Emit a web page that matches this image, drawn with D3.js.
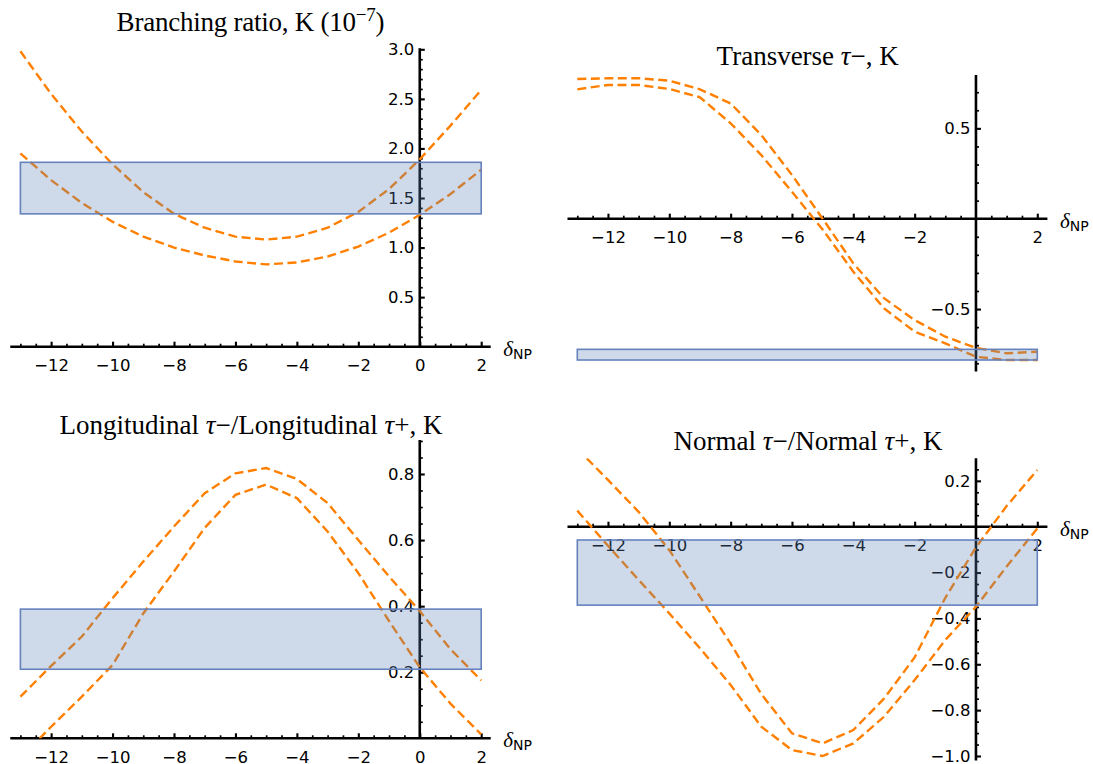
<!DOCTYPE html>
<html>
<head>
<meta charset="utf-8">
<script src="https://cdn.jsdelivr.net/npm/d3@7"></script>
<style>
  body { margin: 0; background: #fff; }
  svg { display: block; }
</style>
</head>
<body>
<svg id="chart" width="1093" height="764"></svg>
<script>
// New-physics parameter grid
const deltaNP = [-13, -12, -11, -10, -9, -8, -7, -6, -5, -4, -3, -2, -1, 0, 1, 2];

// Branching ratio (units of 1e-7): upper / lower bounds and measured band
const branchingUpper = [2.98, 2.55, 2.17, 1.84, 1.56, 1.34, 1.20, 1.11, 1.08, 1.11, 1.20, 1.36, 1.59, 1.89, 2.23, 2.59];
const branchingLower = [1.95, 1.68, 1.45, 1.26, 1.11, 1.00, 0.92, 0.86, 0.83, 0.85, 0.91, 1.01, 1.15, 1.33, 1.54, 1.785];
const branchingBand = [1.34, 1.86];

// Transverse tau- polarisation
const transverseUpper = [0.773, 0.777, 0.777, 0.764, 0.716, 0.638, 0.463, 0.242, 0.0, -0.247, -0.44, -0.561, -0.653, -0.715, -0.745, -0.736];
const transverseLower = [0.716, 0.740, 0.740, 0.718, 0.672, 0.528, 0.352, 0.149, -0.06, -0.293, -0.496, -0.625, -0.69, -0.764, -0.782, -0.782];
const transverseBand = [-0.782, -0.723];

// Longitudinal tau- / tau+ ratio
const longitudinalUpper = [0.126, 0.219, 0.308, 0.424, 0.535, 0.641, 0.742, 0.802, 0.818, 0.785, 0.712, 0.60, 0.49, 0.385, 0.27, 0.175];
const longitudinalLower = [-0.06, 0.035, 0.126, 0.222, 0.378, 0.505, 0.637, 0.737, 0.768, 0.727, 0.626, 0.50, 0.355, 0.215, 0.105, 0.012];
const longitudinalBand = [0.209, 0.391];

// Normal tau- / tau+ ratio
const normalUpper = [0.34, 0.204, 0.065, -0.102, -0.305, -0.51, -0.73, -0.901, -0.945, -0.887, -0.75, -0.57, -0.31, -0.09, 0.09, 0.247];
const normalLower = [0.07, -0.083, -0.232, -0.378, -0.53, -0.69, -0.872, -0.974, -1.0, -0.945, -0.829, -0.669, -0.494, -0.349, -0.174, -0.007];
const normalBand = [-0.342, -0.058];

// Tick labels
const xTicksWithZero = [-12, -10, -8, -6, -4, -2, 0, 2];
const xTicksNoZero = [-12, -10, -8, -6, -4, -2, 2];
const branchingTicks = [0.5, 1.0, 1.5, 2.0, 2.5, 3.0];
const transverseTicks = [-0.5, 0.5];
const longitudinalTicks = [0.2, 0.4, 0.6, 0.8];
const normalTicks = [-1.0, -0.8, -0.6, -0.4, -0.2, 0.2];

// Panel layout
const panels = [
  {
    title: [{t: "Branching ratio, K (10"}, {t: "−7", sup: true}, {t: ")"}],
    titleX: 250.6, titleY: 31, titleWidth: 268,
    upper: branchingUpper, lower: branchingLower, band: branchingBand,
    xTicks: xTicksWithZero, yTicks: branchingTicks, yMinorStep: 0.1,
    xRange: [20.4, 481.2], xExtent: [-13.33, 2.31],
    yDomain: [0, 3], yRange: [346.7, 49.3], yExtent: [0, 3.01]
  },
  {
    title: [{t: "Transverse "}, {t: "τ", it: true}, {t: "−, K"}],
    titleX: 807.7, titleY: 65,
    upper: transverseUpper, lower: transverseLower, band: transverseBand,
    xTicks: xTicksNoZero, yTicks: transverseTicks, yMinorStep: 0.1,
    xRange: [577.3, 1037.3], xExtent: [-13.32, 2.33],
    yDomain: [0, 0.5], yRange: [218.7, 128.35], yExtent: [-0.846, 0.795]
  },
  {
    title: [{t: "Longitudinal "}, {t: "τ", it: true}, {t: "−/Longitudinal "}, {t: "τ", it: true}, {t: "+, K"}],
    titleX: 251, titleY: 433.5,
    upper: longitudinalUpper, lower: longitudinalLower, band: longitudinalBand,
    xTicks: xTicksWithZero, yTicks: longitudinalTicks, yMinorStep: 0.05,
    xRange: [20.4, 481.2], xExtent: [-13.33, 2.31],
    yDomain: [0, 0.8], yRange: [738.3, 474], yExtent: [0, 0.903]
  },
  {
    title: [{t: "Normal "}, {t: "τ", it: true}, {t: "−/Normal "}, {t: "τ", it: true}, {t: "+, K"}],
    titleX: 808, titleY: 450,
    upper: normalUpper, lower: normalLower, band: normalBand,
    xTicks: xTicksNoZero, yTicks: normalTicks, yMinorStep: 0.05,
    xRange: [577.3, 1037.3], xExtent: [-13.32, 2.33],
    yDomain: [0, -1], yRange: [526.7, 756], yExtent: [-1.02, 0.298]
  }
];

const svg = d3.select("#chart");
const defs = svg.append("defs");

const ORANGE = "#ff8000";
const BAND_FILL = "rgba(94,129,181,0.3)";
const BAND_EDGE = "#6582bd";
const TICK_FONT = "'DejaVu Sans', sans-serif";
const SERIF = "'Liberation Serif', 'Times New Roman', serif";

function styleAxis(sel, width) {
  sel.select(".domain").remove();
  sel.selectAll(".tick line").attr("stroke", "#000").attr("stroke-width", width);
  sel.selectAll(".tick text")
    .attr("fill", "#000")
    .attr("font-family", TICK_FONT)
    .attr("font-size", 16.5);
  sel.attr("font-family", null).attr("font-size", null);
}

panels.forEach((p, i) => {
  const x = d3.scaleLinear().domain([-13, 2]).range(p.xRange);
  const y = d3.scaleLinear().domain(p.yDomain).range(p.yRange);
  const g = svg.append("g");
  const x0 = x(0), y0 = y(0);

  // clip region = plot range
  const clipId = "plot-clip-" + i;
  defs.append("clipPath").attr("id", clipId).append("rect")
    .attr("x", x(p.xExtent[0]))
    .attr("y", y(p.yExtent[1]))
    .attr("width", x(p.xExtent[1]) - x(p.xExtent[0]))
    .attr("height", y(p.yExtent[0]) - y(p.yExtent[1]));

  // minor tick positions along each axis
  const xMinor = d3.range(-13, 2.01, 0.5).filter(v => Math.abs(v % 2) > 1e-9);
  const yLo = Math.ceil(p.yExtent[0] / p.yMinorStep - 1e-9);
  const yHi = Math.floor(p.yExtent[1] / p.yMinorStep + 1e-9);
  const yMinor = d3.range(yLo, yHi + 1).map(k => +(k * p.yMinorStep).toFixed(4))
    .filter(v => !p.yTicks.some(t => Math.abs(t - v) < 1e-6) && Math.abs(v) > 1e-9);

  // x axis: minor + major ticks pointing up, labels below
  g.append("g").attr("transform", `translate(0,${y0})`)
    .call(d3.axisBottom(x).tickValues(xMinor).tickSizeInner(-3).tickSizeOuter(0).tickFormat(""))
    .call(s => styleAxis(s, 1.7));
  g.append("g").attr("transform", `translate(0,${y0})`)
    .call(d3.axisBottom(x).tickValues(p.xTicks).tickSizeInner(-5).tickSizeOuter(0)
      .tickPadding(13).tickFormat(d3.format("d")))
    .call(s => styleAxis(s, 2.1));

  // y axis: ticks pointing right, labels left
  g.append("g").attr("transform", `translate(${x0},0)`)
    .call(d3.axisLeft(y).tickValues(yMinor).tickSizeInner(-3).tickSizeOuter(0).tickFormat(""))
    .call(s => styleAxis(s, 1.7));
  g.append("g").attr("transform", `translate(${x0},0)`)
    .call(d3.axisLeft(y).tickValues(p.yTicks).tickSizeInner(-5).tickSizeOuter(0)
      .tickPadding(5.5).tickFormat(d3.format(".1f")))
    .call(s => styleAxis(s, 2.1));

  // axis lines
  g.append("line")
    .attr("x1", x(p.xExtent[0])).attr("x2", x(p.xExtent[1]))
    .attr("y1", y0).attr("y2", y0)
    .attr("stroke", "#000").attr("stroke-width", 2.6);
  g.append("line")
    .attr("x1", x0).attr("x2", x0)
    .attr("y1", y(p.yExtent[0])).attr("y2", y(p.yExtent[1]))
    .attr("stroke", "#000").attr("stroke-width", 2.6);

  // bound curves
  const line = d3.line().x(d => x(d[0])).y(d => y(d[1]));
  [p.upper, p.lower].forEach(vals => {
    g.append("path")
      .datum(deltaNP.map((d, k) => [d, vals[k]]))
      .attr("clip-path", `url(#${clipId})`)
      .attr("d", line)
      .attr("fill", "none")
      .attr("stroke", ORANGE)
      .attr("stroke-width", 2.4)
      .attr("stroke-dasharray", "9,4.5");
  });

  // experimental band
  g.append("rect")
    .attr("x", x(-13)).attr("width", x(2) - x(-13))
    .attr("y", y(d3.max(p.band))).attr("height", Math.abs(y(p.band[0]) - y(p.band[1])))
    .attr("fill", BAND_FILL)
    .attr("stroke", BAND_EDGE)
    .attr("stroke-width", 1.6);

  // axis label delta_NP
  const lab = g.append("text")
    .attr("x", x(p.xExtent[1]) + 12.5)
    .attr("y", y0 + 9)
    .attr("fill", "#000");
  lab.append("tspan").text("δ")
    .attr("font-family", SERIF).attr("font-style", "italic").attr("font-size", 21);
  lab.append("tspan").text("NP")
    .attr("font-family", TICK_FONT).attr("font-size", 14).attr("dy", 3);

  // title
  const title = g.append("text")
    .attr("x", p.titleX).attr("y", p.titleY)
    .attr("text-anchor", "middle")
    .attr("font-family", SERIF)
    .attr("font-size", 27)
    .attr("fill", "#000");
  if (p.titleWidth) title.attr("textLength", p.titleWidth).attr("lengthAdjust", "spacing");
  p.title.forEach(seg => {
    const ts = title.append("tspan").text(seg.t);
    if (seg.it) ts.attr("font-style", "italic");
    if (seg.sup) ts.attr("font-size", 19).attr("baseline-shift", "55%");
  });
});
</script>
</body>
</html>
